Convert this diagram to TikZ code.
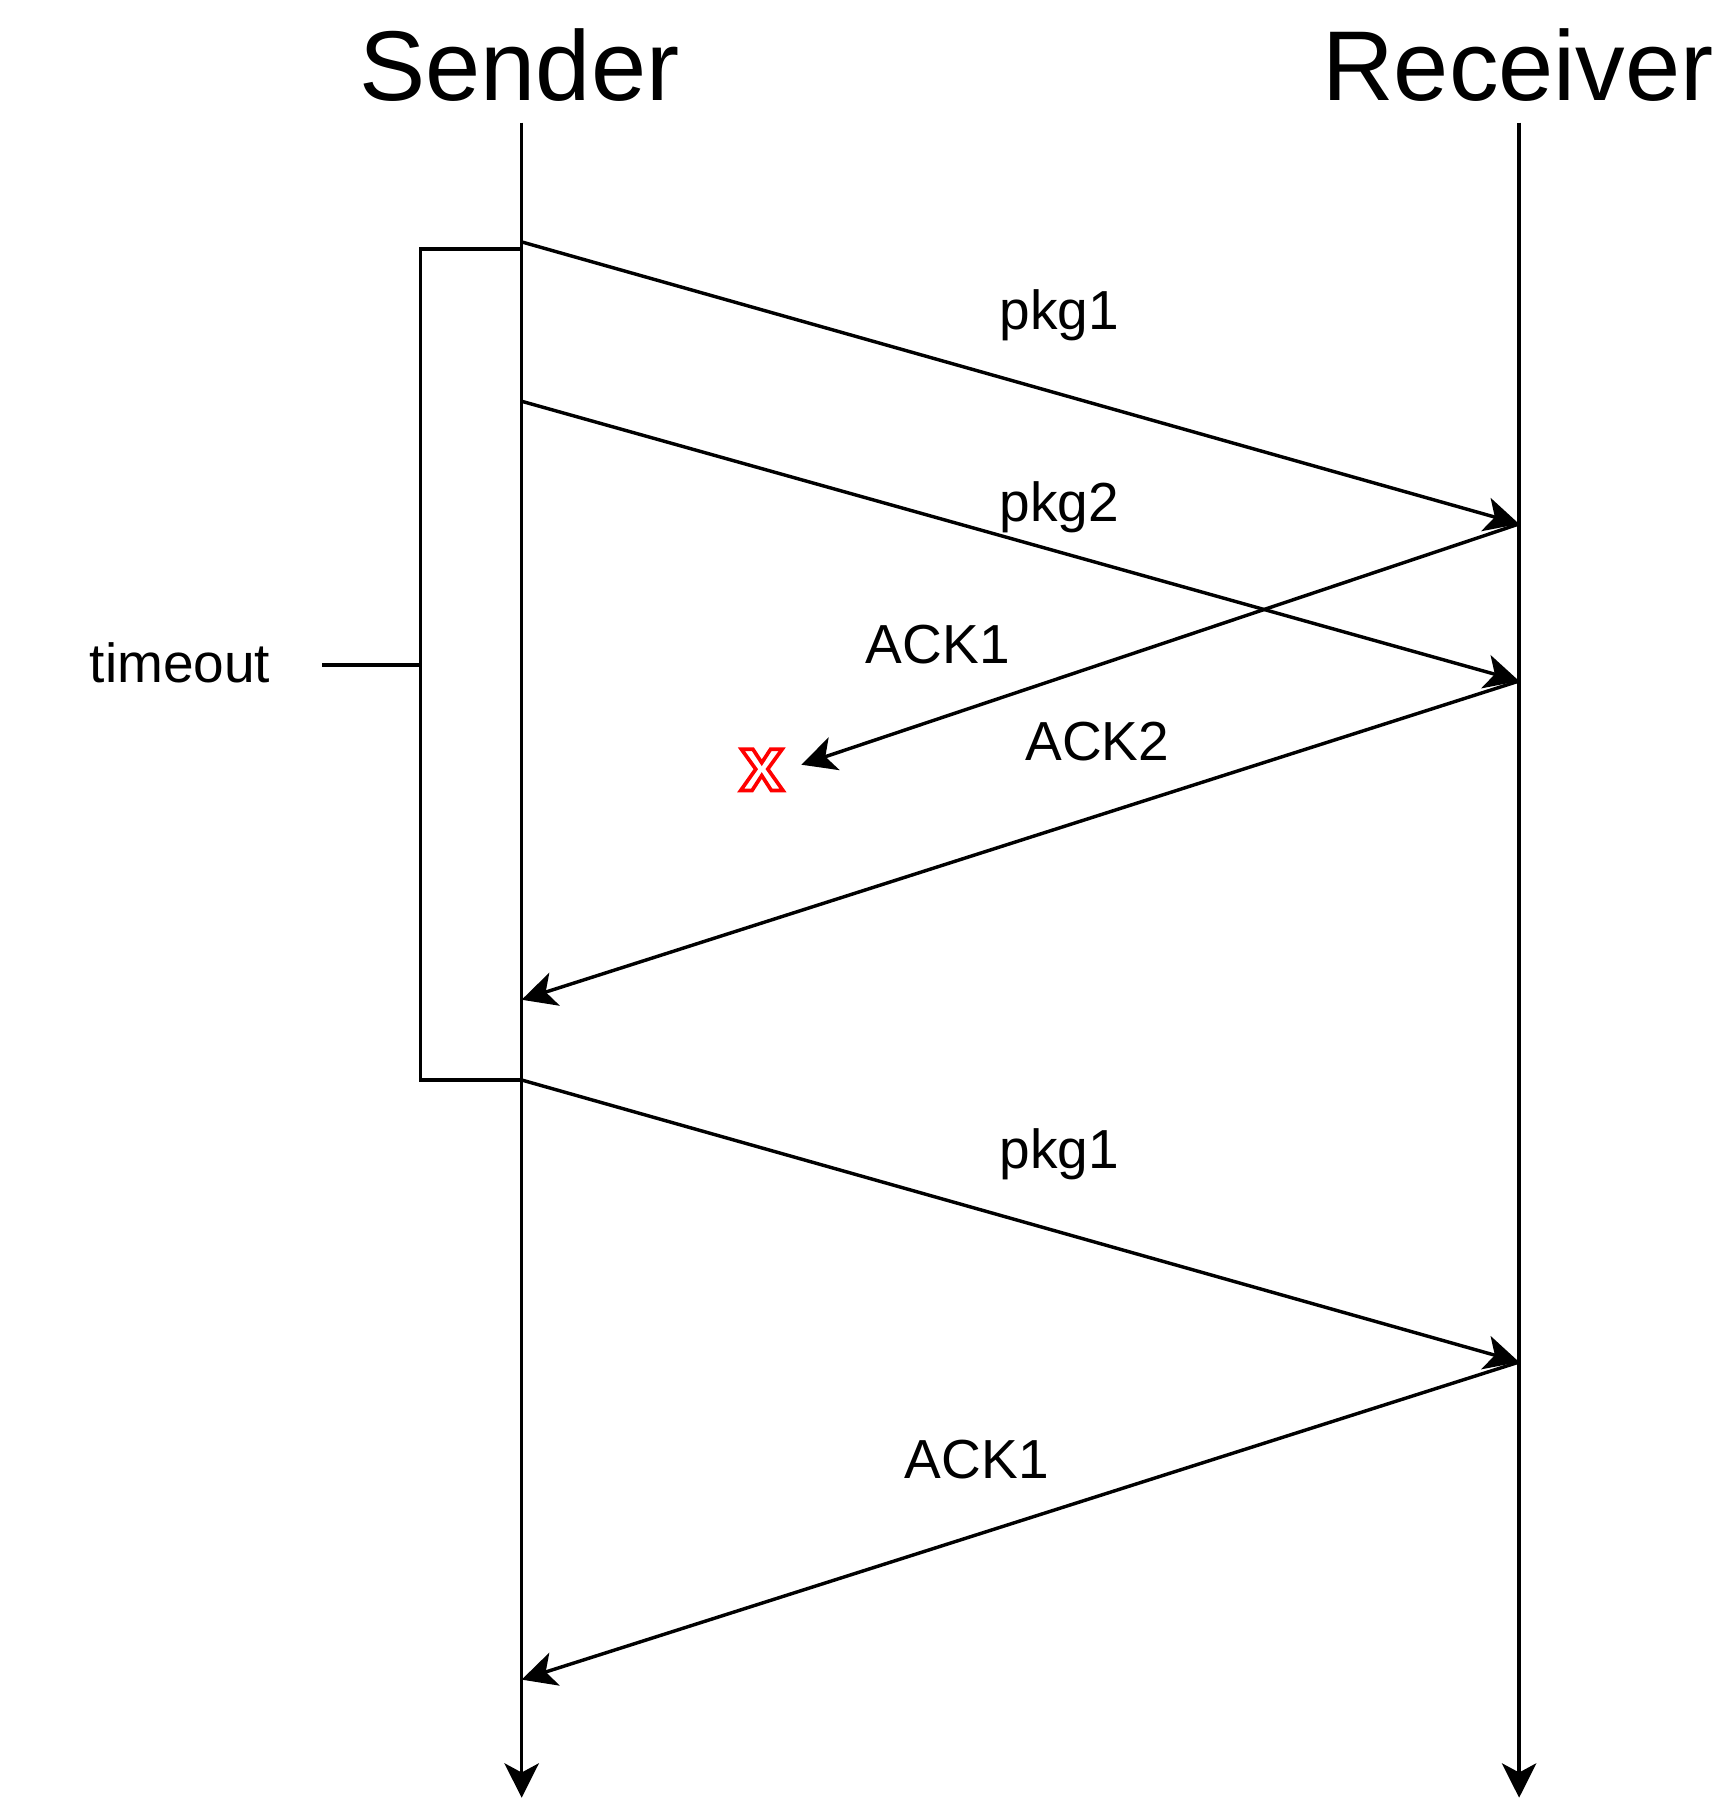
\documentclass[tikz,border=0pt]{standalone}
\usepackage{fontspec}
\setmainfont{Liberation Sans}
\usetikzlibrary{arrows.meta}
\tikzset{
  lifeline/.style={line width=3pt,-{Stealth[length=30pt,width=30pt,inset=8pt]}},
  msg/.style={line width=3pt,-{Stealth[length=30pt,width=30pt,inset=8pt]}},
  plain/.style={line width=3pt},
  title/.style={anchor=base,inner sep=0pt,font=\fontsize{86.5}{100}\selectfont},
  lbl/.style={anchor=base,inner sep=0pt,font=\fontsize{48}{56}\selectfont},
}
\begin{document}
\begin{tikzpicture}[x=1pt,y=-1pt]
\useasboundingbox (0,0) rectangle (1500,1570);
% titles
\node[title] (sender) at (453,88) {Sender};
\node[title] (receiver) at (1324,88) {Receiver};
% lifeline coordinates
\coordinate (s0) at (455,107);
\coordinate (s1) at (455,1568);
\coordinate (r0) at (1325,107);
\coordinate (r1) at (1325,1568);
\draw[lifeline] (s0) -- (s1);
\draw[lifeline] (r0) -- (r1);
% timeout box
\coordinate (bt) at (455,217);
\coordinate (bb) at (455,942);
\coordinate (bl) at (367,580);
\coordinate (tl) at (281,580);
\draw[plain] (bt) -- (367,217) -- (367,942) -- (bb);
\draw[plain] (tl) -- (bl);
\node[lbl] (timeout) at (157,595.5) {timeout};
% message endpoints
\coordinate (p1s) at (455,211);
\coordinate (p1r) at (1325,457);
\coordinate (p2s) at (455,350);
\coordinate (p2r) at (1325,594);
\coordinate (a1e) at (699,667);
\coordinate (a2e) at (455,872);
\coordinate (p3s) at (455,942);
\coordinate (p3r) at (1325,1188);
\coordinate (a3e) at (455,1465);
\draw[msg] (p1s) -- (p1r);
\draw[msg] (p2s) -- (p2r);
\draw[msg] (p1r) -- (a1e);
\draw[msg] (p2r) -- (a2e);
\draw[msg] (p3s) -- (p3r);
\draw[msg] (p3r) -- (a3e);
% labels
\node[lbl] (l1) at (924,287) {pkg1};
\node[lbl] (l2) at (924,454.5) {pkg2};
\node[lbl] (l3) at (818,579) {ACK1};
\node[lbl] (l4) at (957,663) {ACK2};
\node[lbl] (l5) at (924,1019) {pkg1};
\node[lbl] (l6) at (852,1290) {ACK1};
% lost marker
\node[inner sep=0pt,text=white,font=\fontsize{68}{80}\bfseries] (lost) at (664.5,671.5)
  {\special{pdf:literal direct 2 Tr 1 0 0 RG 3.2 w}x\special{pdf:literal direct 0 Tr 0 G}};
\end{tikzpicture}
\end{document}
